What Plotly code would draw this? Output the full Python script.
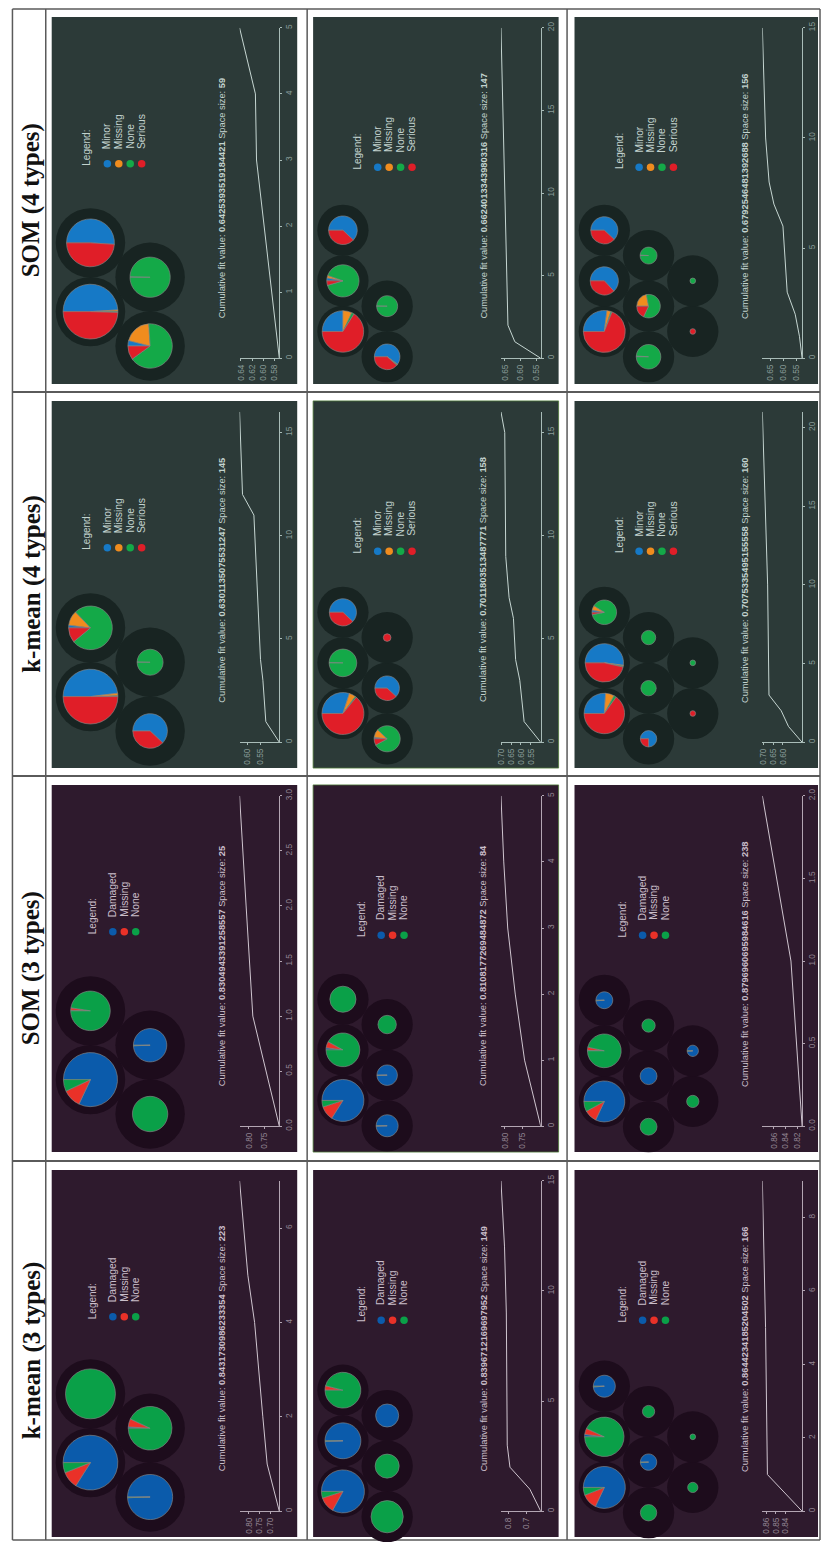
import plotly.graph_objects as go

W, H = 821, 1547

# ---------------- data ----------------
HEADERS = ["SOM (4 types)", "k-mean (4 types)", "SOM (3 types)", "k-mean (3 types)"]
TYPES_4 = ["Minor", "Missing", "None", "Serious"]
TYPES_3 = ["Damaged", "Missing", "None"]

FIT_TEXT = [
    ["0.6425393519184421", "0.6624013343980316", "0.6792546481392688"],
    ["0.6301135075531247", "0.7011803513487771", "0.7075335495155558"],
    ["0.8304943391258557", "0.8108177269484872", "0.8796960695984616"],
    ["0.8431730986233354", "0.8396712169697952", "0.8644234185204502"],
]
SPACE_SIZE = [[59, 147, 156], [145, 158, 160], [25, 84, 238], [223, 149, 166]]

# cumulative fit curves (iteration, value)
ITERS = [
    [[0, 3, 4, 5], [0, 1, 2, 10, 20], [0, 1, 2, 3, 6, 7, 8, 10, 15]],
    [[0, 1, 3, 4, 11, 12, 16], [0, 1, 3, 4, 6, 7, 9, 15, 16], [0, 1, 2, 3, 10, 21]],
    [[0, 1, 2, 3], [0, 1, 2, 3, 4, 5], [0, 1, 2]],
    [[0, 1, 2, 4, 5, 7], [0, 1, 2, 3, 9, 12, 15], [0, 1, 5, 9]],
]
FIT = [
    [[0.571, 0.612, 0.614, 0.6425], [0.535, 0.618, 0.640, 0.651, 0.6624],
     [0.53, 0.54, 0.556, 0.586, 0.602, 0.636, 0.654, 0.667, 0.6793]],
    [[0.48, 0.531, 0.542, 0.551, 0.576, 0.619, 0.6301],
     [0.50, 0.584, 0.606, 0.627, 0.638, 0.660, 0.677, 0.682, 0.7012],
     [0.50, 0.571, 0.609, 0.673, 0.68, 0.7075]],
    [[0.70, 0.787, 0.809, 0.8305], [0.70, 0.745, 0.771, 0.792, 0.803, 0.8108], [0.812, 0.831, 0.8797]],
    [[0.66, 0.716, 0.736, 0.774, 0.805, 0.8432], [0.62, 0.68, 0.79, 0.805, 0.81, 0.82, 0.8397],
     [0.822, 0.859, 0.861, 0.8644]],
]
FIT_TICKS = [
    [["0.58", "0.60", "0.62", "0.64"], ["0.55", "0.60", "0.65"], ["0.55", "0.60", "0.65"]],
    [["0.55", "0.60"], ["0.55", "0.60", "0.65", "0.70"], ["0.60", "0.65", "0.70"]],
    [["0.75", "0.80"], ["0.75", "0.80"], ["0.82", "0.84", "0.86"]],
    [["0.70", "0.75", "0.80"], ["0.7", "0.8"], ["0.84", "0.85", "0.86"]],
]
ITER_TICKS = [
    [["0", "1", "2", "3", "4", "5"], ["0", "5", "10", "15", "20"], ["0", "5", "10", "15"]],
    [["0", "5", "10", "15"], ["0", "5", "10", "15"], ["0", "5", "10", "15", "20"]],
    [["0.0", "0.5", "1.0", "1.5", "2.0", "2.5", "3.0"], ["0", "1", "2", "3", "4", "5"],
     ["0.0", "0.5", "1.0", "1.5", "2.0"]],
    [["0", "2", "4", "6"], ["0", "5", "10", "15"], ["0", "2", "4", "6", "8"]],
]

# map nodes: (grid column, grid row, pie scale, class shares)
NODES = [
    [
        [(0, 0, .79, [.49, .01, .005, .495]), (0, 1, .69, [.51, 0, 0, .49]),
         (1, 0, .64, [.04, .20, .66, .10]), (1, 1, .58, [.004, 0, .996, 0])],
        [(0, 0, .81, [.25, .07, .02, .66]), (0, 1, .63, [.03, .025, .90, .045]),
         (0, 2, .56, [.62, 0, 0, .38]), (1, 0, .50, [.60, .005, .01, .385]),
         (1, 1, .41, [.004, 0, .996, 0])],
        [(0, 0, .82, [.27, .03, .01, .69]), (0, 1, .55, [.63, 0, 0, .37]),
         (0, 2, .53, [.62, 0, 0, .38]), (1, 0, .48, [.01, 0, .99, 0]),
         (1, 1, .46, [0, .22, .60, .18]), (1, 2, .33, [.01, 0, .99, 0]),
         (2, 0, .11, [0, 0, 0, 1]), (2, 1, .11, [0, 0, 1, 0])],
    ],
    [
        [(0, 0, .79, [.48, .015, .005, .50]), (0, 1, .63, [.02, .11, .76, .11]),
         (1, 0, .50, [.62, 0, 0, .38]), (1, 1, .375, [.004, 0, .996, 0])],
        [(0, 0, .82, [.30, .05, .01, .64]), (0, 1, .54, [.003, 0, .997, 0]),
         (0, 2, .53, [.62, 0, 0, .38]), (1, 0, .51, [.02, .10, .80, .08]),
         (1, 1, .48, [.62, 0, 0, .38]), (1, 2, .15, [0, 0, 0, 1])],
        [(0, 0, .79, [.26, .07, .02, .65]), (0, 1, .75, [.52, .005, .01, .465]),
         (0, 2, .48, [.03, .06, .88, .03]), (1, 0, .32, [.75, 0, 0, .25]),
         (1, 1, .30, [0, 0, 1, 0]), (1, 2, .28, [0, 0, 1, 0]),
         (2, 0, .11, [0, 0, 0, 1]), (2, 1, .11, [0, 0, 1, 0])],
    ],
    [
        [(0, 0, .78, [.82, .11, .07]), (0, 1, .57, [.005, .02, .975]),
         (1, 0, .51, [0, 0, 1]), (1, 1, .48, [.995, 0, .005])],
        [(0, 0, .82, [.84, .11, .05]), (0, 1, .66, [.02, .06, .92]),
         (0, 2, .51, [0, 0, 1]), (1, 0, .43, [.995, 0, .005]),
         (1, 1, .40, [.995, 0, .005]), (1, 2, .36, [0, 0, 1])],
        [(0, 0, .80, [.82, .10, .08]), (0, 1, .66, [.005, .03, .965]),
         (0, 2, .33, [.99, 0, .01]), (1, 0, .33, [0, 0, 1]),
         (1, 1, .33, [1, 0, 0]), (1, 2, .26, [0, 0, 1]),
         (2, 0, .24, [0, 0, 1]), (2, 1, .22, [.99, 0, .01])],
    ],
    [
        [(0, 0, .79, [.84, .10, .06]), (0, 1, .72, [0, 0, 1]),
         (1, 0, .65, [.995, 0, .005]), (1, 1, .63, [.01, .06, .93])],
        [(0, 0, .84, [.83, .12, .05]), (0, 1, .70, [.995, 0, .005]),
         (0, 2, .70, [0, .04, .96]), (1, 0, .63, [0, 0, 1]),
         (1, 1, .47, [0, 0, 1]), (1, 2, .45, [1, 0, 0])],
        [(0, 0, .82, [.82, .12, .06]), (0, 1, .77, [.02, .05, .93]),
         (0, 2, .43, [.99, 0, .01]), (1, 0, .32, [0, 0, 1]),
         (1, 1, .32, [.99, 0, .01]), (1, 2, .24, [0, 0, 1]),
         (2, 0, .20, [0, 0, 1]), (2, 1, .11, [0, 0, 1])],
    ],
]

# ---------------- styles / layout ----------------
COLORS_4 = ["#1679c6", "#f08c1e", "#14a948", "#e01e28"]
COLORS_3 = ["#0b5bab", "#ea3128", "#0aa048"]
THEME_4 = dict(bg="#2c3a38", ring="#182422", text="#c3d3cf", bold="#e4eeeb",
               axis="#a9bcb8", tick="#8a9c98", line="#c6d6d2")
THEME_3 = dict(bg="#2e1a2d", ring="#1d0c1c", text="#cbbfcb", bold="#ece4ec",
               axis="#b3a6b3", tick="#938593", line="#cfc5cf")
SANS = "Liberation Sans, Arial, sans-serif"

COL_X = [47, 310, 573]
COL_W = [247, 247, 245]
ROW_Y = [10, 397, 784, 1172]
PANEL_H = 370
GRID_Y0 = [[297, 317, 317], [298, 315, 315], [297, 318, 319], [295, 324, 320]]

shapes, annotations = [], []
fig = go.Figure()

def px_x(v):
    return v / W

def px_y(v):
    return 1 - v / H

# table grid
LINE = "#5a5a5a"
for x in [7.5, 41, 304, 565.5, 820]:
    shapes.append(dict(type="line", xref="x", yref="y", x0=x, x1=x, y0=2, y1=1545,
                       line=dict(color=LINE, width=1.5), layer="below"))
for y, w in [(2, 1.5), (388, 2.2), (775, 2.2), (1163, 2.2), (1545, 1.5)]:
    shapes.append(dict(type="line", xref="x", yref="y", x0=7.5, x1=820, y0=y, y1=y,
                       line=dict(color=LINE, width=w), layer="below"))

row_centers = [195, 581.5, 969, 1354]
for r, t in enumerate(HEADERS):
    annotations.append(dict(x=27, y=row_centers[r], xref="x", yref="y", text="<b>%s</b>" % t,
                            textangle=-90, showarrow=False, xanchor="center", yanchor="middle",
                            font=dict(family="Liberation Serif, Times New Roman, serif",
                                      size=25, color="#111111")))

dot_x, dot_y, dot_c = [], [], []
ax_i = 1
for r in range(4):
    four = r < 2
    th = THEME_4 if four else THEME_3
    types = TYPES_4 if four else TYPES_3
    cols = COLORS_4 if four else COLORS_3
    for c in range(3):
        px0, py0 = COL_X[c], ROW_Y[r]
        shapes.append(dict(type="rect", xref="x", yref="y", x0=px0, x1=px0 + COL_W[c],
                           y0=py0, y1=py0 + PANEL_H, fillcolor=th["bg"],
                           line=dict(width=0), layer="below"))
        if (r, c) in [(1, 1), (2, 1)]:
            shapes.append(dict(type="rect", xref="x", yref="y", x0=px0, x1=px0 + COL_W[c],
                               y0=py0, y1=py0 + PANEL_H, line=dict(color="#4e7a3a", width=0.8),
                               layer="below"))
        # node grid
        if c == 0:
            s, dx, gx0 = 69.3, 60.0, 39.0
        else:
            s, dx, gx0 = 51.0, 44.5, 30.0
        ring_r = s / 2 + 0.3
        gy0 = GRID_Y0[r][c]
        for gc, gk, scale, shares in NODES[r][c]:
            cx = px0 + gx0 + gc * dx
            cy = py0 + gy0 - gk * s + (gc % 2) * s / 2
            shapes.append(dict(type="circle", xref="x", yref="y", x0=cx - ring_r, x1=cx + ring_r,
                               y0=cy - ring_r, y1=cy + ring_r, fillcolor=th["ring"],
                               line=dict(width=0), layer="below"))
            pr = scale * ring_r
            vals = [v for v in shares if v > 0]
            labs = [types[i] for i, v in enumerate(shares) if v > 0]
            pcols = [cols[i] for i, v in enumerate(shares) if v > 0]
            fig.add_trace(go.Pie(values=vals, labels=labs, sort=False, direction="clockwise",
                                 rotation=270, textinfo="none", hoverinfo="label+percent",
                                 showlegend=False,
                                 marker=dict(colors=pcols,
                                             line=dict(color="rgba(135,135,135,0.9)", width=0.7)),
                                 domain=dict(x=[px_x(cx - pr), px_x(cx + pr)],
                                             y=[px_y(cy + pr), px_y(cy - pr)])))
        # legend
        first = (56 if four else 61.5) if c == 0 else (65 if four else 68.5)
        dy = py0 + (148 if c == 0 else 151.5)
        annotations.append(dict(x=px0 + first - 20.5, y=dy + 4, xref="x", yref="y",
                                text="Legend:", textangle=-90, showarrow=False,
                                xanchor="center", yanchor="bottom",
                                font=dict(family=SANS, size=10, color=th["text"])))
        for i, name in enumerate(types):
            xx = px0 + first + i * 11.5
            dot_x.append(xx)
            dot_y.append(dy)
            dot_c.append(cols[i])
            annotations.append(dict(x=xx, y=dy - 13, xref="x", yref="y", text=name,
                                    textangle=-90, showarrow=False, xanchor="center",
                                    yanchor="bottom",
                                    font=dict(family=SANS, size=10.3, color=th["text"])))
        # fit text
        txt = ("Cumulative fit value: <b>%s</b> Space size: <b>%d</b>"
               % (FIT_TEXT[r][c], SPACE_SIZE[r][c]))
        annotations.append(dict(x=px0 + 171, y=py0 + 306, xref="x", yref="y", text=txt,
                                textangle=-90, showarrow=False, xanchor="center",
                                yanchor="bottom",
                                font=dict(family=SANS, size=9.3, color=th["text"])))
        # cumulative fit line chart
        ax_i += 1
        xs, ys = FIT[r][c], ITERS[r][c]
        xa, ya = "x%d" % ax_i, "y%d" % ax_i
        fig.add_trace(go.Scatter(x=xs, y=ys, mode="lines", xaxis=xa, yaxis=ya,
                                 line=dict(color=th["line"], width=1), showlegend=False,
                                 hoverinfo="x+y"))
        ftv = [float(t) for t in FIT_TICKS[r][c]]
        itv = [float(t) for t in ITER_TICKS[r][c]]
        fig.update_layout(**{
            "xaxis%d" % ax_i: dict(domain=[px_x(px0 + 189), px_x(px0 + 229)],
                                   range=[max(xs), min(xs)], anchor=ya, showgrid=False,
                                   zeroline=False, showline=True, linecolor=th["axis"],
                                   linewidth=1, ticks="outside", ticklen=2,
                                   tickcolor=th["axis"], tickvals=ftv,
                                   ticktext=FIT_TICKS[r][c], tickangle=-90,
                                   tickfont=dict(family=SANS, size=8.3, color=th["tick"]),
                                   fixedrange=True),
            "yaxis%d" % ax_i: dict(domain=[px_y(py0 + 344), px_y(py0 + 11)],
                                   range=[0, max(ys)], anchor=xa, side="right",
                                   showgrid=False, zeroline=False, showline=True,
                                   linecolor=th["axis"], linewidth=1, ticks="outside",
                                   ticklen=2, tickcolor=th["axis"], tickvals=itv,
                                   ticktext=ITER_TICKS[r][c], tickangle=-90,
                                   tickfont=dict(family=SANS, size=8.3, color=th["tick"]),
                                   fixedrange=True),
        })

# legend swatches on the page-pixel axes
fig.add_trace(go.Scatter(x=dot_x, y=dot_y, mode="markers", xaxis="x", yaxis="y",
                         marker=dict(size=7.5, color=dot_c, line=dict(width=0)),
                         showlegend=False, hoverinfo="skip"))

fig.update_layout(
    width=W, height=H, margin=dict(l=0, r=0, t=0, b=0),
    paper_bgcolor="white", plot_bgcolor="rgba(0,0,0,0)", showlegend=False,
    xaxis=dict(range=[0, W], domain=[0, 1], visible=False, fixedrange=True),
    yaxis=dict(range=[H, 0], domain=[0, 1], visible=False, fixedrange=True),
    shapes=shapes, annotations=annotations,
)

fig.write_html("out.html", config={"displayModeBar": False},
               post_script="document.body.style.margin='0';document.body.style.padding='0';")
